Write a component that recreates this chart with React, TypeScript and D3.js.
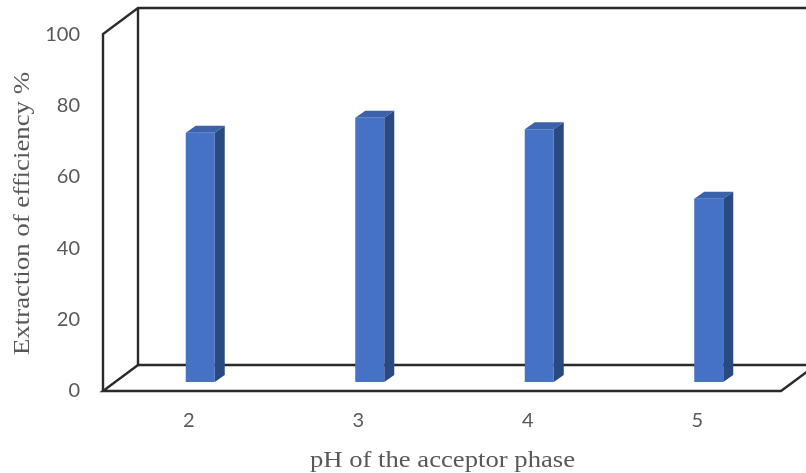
import React from "react";
import * as d3 from "d3";

const categories = ["2", "3", "4", "5"];
const efficiency = [70, 74.2, 71, 51.5];
const yTicks = [0, 20, 40, 60, 80, 100];
const xTitle = "pH of the acceptor phase";
const yTitle = "Extraction of efficiency %";

const W = 806, H = 473;
const frontLeft = 103, frontBottom = 391, frontTop = 34, frontRight = 781;
const dx = 35, dy = 26;
const barW = 29, barDx = 10, barDy = 7;
const barBase = 382;
const barShift = 11.5;

export default function App() {
  const y = d3.scaleLinear().domain([0, 100]).range([frontBottom - 1, frontTop]);
  const h = d3.scaleLinear().domain([0, 100]).range([0, frontBottom - 1 - frontTop]);
  const x = d3.scaleBand<string>().domain(categories).range([frontLeft + 1, frontRight + 1]);
  const stroke = "#2a2a2a";
  const tickFont = "Lato, 'Open Sans', sans-serif";
  return (
    <svg width={W} height={H} style={{ position: "absolute", left: 0, top: 0, background: "#fff" }}>
      <defs>
        <filter id="soft" x="-5%" y="-5%" width="110%" height="110%">
          <feGaussianBlur stdDeviation="0.45" />
        </filter>
      </defs>
      <g filter="url(#soft)">
        <g fill="none" stroke={stroke} strokeWidth={2.4}>
          <path d={`M${frontLeft},${frontBottom} V${frontTop} L${frontLeft + dx},${frontTop - dy} H${W}`} />
          <path d={`M${frontLeft + dx},${frontTop - dy} V${frontBottom - dy} H${W}`} />
          <path d={`M${frontLeft + dx},${frontBottom - dy} L${frontLeft},${frontBottom} H${frontRight} L${frontRight + dx},${frontBottom - dy}`} />
        </g>
        {categories.map((c, i) => {
          const bh = h(efficiency[i]);
          const center = x(c)! + x.bandwidth() / 2;
          const left = center - barW / 2 + barShift;
          const top = barBase - bh;
          return (
            <g key={c}>
              <path d={`M${left},${top} l${barDx},${-barDy} h${barW} l${-barDx},${barDy} Z`} fill="#3a62aa" />
              <path d={`M${left + barW},${top} l${barDx},${-barDy} V${barBase - barDy} l${-barDx},${barDy} Z`} fill="#2b4a80" />
              <rect x={left} y={top} width={barW} height={bh} fill="#4472c4" />
              <text x={center} y={427} textAnchor="middle" fontFamily={tickFont} fontSize={20} fill="#595959">{c}</text>
            </g>
          );
        })}
        {yTicks.map(t => (
          <text key={t} x={80} y={y(t) + 7} textAnchor="end" fontFamily={tickFont} fontSize={20} fill="#595959">{t}</text>
        ))}
        <text x={310} y={467} textLength={265} lengthAdjust="spacingAndGlyphs" fontFamily="'Liberation Serif', serif" fontSize={24} fill="#595959">{xTitle}</text>
        <text transform="translate(29,355) rotate(-90)" textLength={283} lengthAdjust="spacingAndGlyphs" fontFamily="'Liberation Serif', serif" fontSize={24} fill="#595959">{yTitle}</text>
      </g>
    </svg>
  );
}
